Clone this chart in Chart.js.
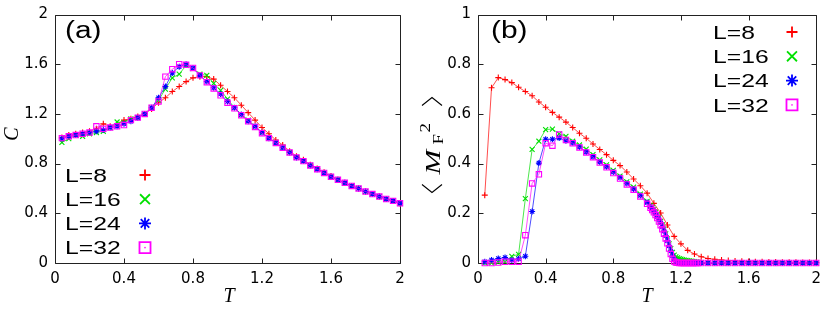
<!DOCTYPE html>
<html>
<head>
<meta charset="utf-8">
<script src="https://cdn.jsdelivr.net/npm/chart.js@4.4.1/dist/chart.umd.min.js"></script>
<style>
  html, body { margin: 0; padding: 0; background: #fff; }
  #wrap { position: relative; width: 830px; height: 310px; }
  #wrap canvas { position: absolute; top: 0; }
  #panelA { left: 0; }
  #panelB { left: 415px; }
</style>
</head>
<body>
<div id="wrap">
  <canvas id="panelA" width="415" height="310"></canvas>
  <canvas id="panelB" width="415" height="310"></canvas>
</div>
<script>
// system sizes
const sizes = ['L=8', 'L=16', 'L=24', 'L=32'];

// ticks
const xTicks = [0, 0.4, 0.8, 1.2, 1.6, 2];
const xTickLabels = ['0', '0.4', '0.8', '1.2', '1.6', '2'];
const yTicksA = [0, 0.4, 0.8, 1.2, 1.6, 2];
const yTickLabelsA = ['0', '0.4', '0.8', '1.2', '1.6', '2'];
const yTicksB = [0, 0.2, 0.4, 0.6, 0.8, 1];
const yTickLabelsB = ['0', '0.2', '0.4', '0.6', '0.8', '1'];

// temperatures, step 0.04
const tempsCoarse = [0.04, 0.08, 0.12, 0.16, 0.20, 0.24, 0.28, 0.32, 0.36, 0.40,
  0.44, 0.48, 0.52, 0.56, 0.60, 0.64, 0.68, 0.72, 0.76, 0.80,
  0.84, 0.88, 0.92, 0.96, 1.00, 1.04, 1.08, 1.12, 1.16, 1.20,
  1.24, 1.28, 1.32, 1.36, 1.40, 1.44, 1.48, 1.52, 1.56, 1.60,
  1.64, 1.68, 1.72, 1.76, 1.80, 1.84, 1.88, 1.92, 1.96, 2.00];

// temperatures for L=16,24,32 in panel (b), finer near the transition
const tempsFine = [0.04, 0.08, 0.12, 0.16, 0.20, 0.24, 0.28, 0.32, 0.36, 0.40,
  0.44, 0.48, 0.52, 0.56, 0.60, 0.64, 0.68, 0.72, 0.76, 0.80,
  0.84, 0.88, 0.92, 0.96, 1.00,
  1.02, 1.03, 1.04, 1.05, 1.06, 1.07, 1.08, 1.09, 1.10, 1.11,
  1.12, 1.13, 1.14, 1.15, 1.16, 1.17, 1.18, 1.19, 1.20, 1.21,
  1.22, 1.23, 1.24, 1.25, 1.26, 1.27, 1.28, 1.29, 1.30,
  1.32, 1.36, 1.40, 1.44, 1.48, 1.52, 1.56, 1.60, 1.64, 1.68,
  1.72, 1.76, 1.80, 1.84, 1.88, 1.92, 1.96, 2.00];

// (a) specific heat C
const cL8 = [1.01, 1.03, 1.04, 1.05, 1.06, 1.08, 1.12, 1.10, 1.12, 1.15,
  1.16, 1.18, 1.20, 1.24, 1.29, 1.33, 1.38, 1.42, 1.46, 1.49,
  1.50, 1.50, 1.48, 1.43, 1.38, 1.33, 1.27, 1.21, 1.15, 1.09,
  1.04, 0.99, 0.95, 0.90, 0.86, 0.83, 0.79, 0.76, 0.73, 0.70,
  0.67, 0.645, 0.62, 0.60, 0.575, 0.555, 0.535, 0.515, 0.50, 0.48];
const cL16 = [0.97, 1.00, 1.03, 1.02, 1.04, 1.05, 1.06, 1.09, 1.135, 1.13,
  1.16, 1.17, 1.20, 1.25, 1.31, 1.40, 1.49, 1.52, 1.59, 1.565,
  1.52, 1.51, 1.445, 1.39, 1.32, 1.25, 1.195, 1.15, 1.10, 1.05,
  1.005, 0.97, 0.93, 0.89, 0.85, 0.82, 0.785, 0.755, 0.725, 0.695,
  0.67, 0.645, 0.62, 0.60, 0.575, 0.555, 0.535, 0.515, 0.50, 0.48];
const cL24 = [1.00, 1.02, 1.03, 1.04, 1.05, 1.06, 1.07, 1.09, 1.10, 1.12,
  1.14, 1.17, 1.20, 1.25, 1.33, 1.42, 1.53, 1.58, 1.60, 1.57,
  1.51, 1.46, 1.41, 1.36, 1.30, 1.25, 1.195, 1.14, 1.10, 1.05,
  1.005, 0.966, 0.927, 0.89, 0.85, 0.82, 0.785, 0.755, 0.725, 0.695,
  0.67, 0.645, 0.62, 0.60, 0.575, 0.555, 0.535, 0.515, 0.50, 0.48];
const cL32 = [1.005, 1.02, 1.03, 1.04, 1.05, 1.10, 1.08, 1.09, 1.10, 1.11,
  1.15, 1.17, 1.20, 1.25, 1.30, 1.50, 1.56, 1.60, 1.595, 1.57,
  1.51, 1.455, 1.405, 1.35, 1.29, 1.245, 1.19, 1.14, 1.095, 1.045,
  1.005, 0.966, 0.927, 0.89, 0.85, 0.82, 0.785, 0.755, 0.725, 0.695,
  0.67, 0.645, 0.62, 0.60, 0.575, 0.555, 0.535, 0.515, 0.50, 0.48];

// (b) <M_F^2>
const mL8 = [0.273, 0.705, 0.746, 0.738, 0.726, 0.707, 0.690, 0.673, 0.648, 0.627,
  0.606, 0.587, 0.567, 0.545, 0.522, 0.502, 0.479, 0.457, 0.436, 0.413,
  0.392, 0.366, 0.338, 0.311, 0.281, 0.240, 0.201, 0.153, 0.107, 0.077,
  0.051, 0.036, 0.025, 0.018, 0.015, 0.012, 0.010, 0.008, 0.007, 0.006,
  0.005, 0.005, 0.004, 0.004, 0.003, 0.003, 0.003, 0.002, 0.002, 0.002];
const mL16 = [0.000, 0.000, 0.003, 0.005, 0.027, 0.035, 0.259, 0.457, 0.490, 0.537,
  0.539, 0.520, 0.510, 0.490, 0.475, 0.458, 0.436, 0.415, 0.395, 0.373,
  0.350, 0.327, 0.305, 0.277, 0.248,
  0.232, 0.224, 0.215, 0.205, 0.194, 0.182, 0.168, 0.153, 0.136, 0.117,
  0.097, 0.077, 0.058, 0.043, 0.032, 0.025, 0.021, 0.018, 0.016, 0.014,
  0.012, 0.011, 0.010, 0.009, 0.008, 0.007, 0.006, 0.005, 0.004,
  0.002, 0.001, 0, 0, 0, 0, 0, 0, 0, 0,
  0, 0, 0, 0, 0, 0, 0, 0];
const mL24 = [0.005, 0.012, 0.018, 0.022, 0.012, 0.017, 0.027, 0.207, 0.402, 0.498,
  0.498, 0.503, 0.492, 0.484, 0.467, 0.447, 0.428, 0.406, 0.387, 0.366,
  0.344, 0.320, 0.298, 0.272, 0.243,
  0.226, 0.217, 0.208, 0.198, 0.187, 0.175, 0.161, 0.146, 0.129, 0.110,
  0.090, 0.069, 0.048, 0.029, 0.015, 0.008, 0.004, 0.002, 0.001, 0.001,
  0, 0, 0, 0, 0, 0, 0, 0, 0,
  0, 0, 0, 0, 0, 0, 0, 0, 0, 0,
  0, 0, 0, 0, 0, 0, 0, 0];
const mL32 = [0.000, 0.000, 0.002, 0.005, 0.005, 0.005, 0.112, 0.320, 0.357, 0.482,
  0.472, 0.517, 0.495, 0.482, 0.465, 0.445, 0.426, 0.404, 0.385, 0.362,
  0.340, 0.316, 0.295, 0.268, 0.238,
  0.222, 0.213, 0.204, 0.193, 0.181, 0.167, 0.152, 0.136, 0.118, 0.099,
  0.079, 0.058, 0.036, 0.017, 0.006, 0.002, 0.001, 0, 0, 0,
  0, 0, 0, 0, 0, 0, 0, 0, 0,
  0, 0, 0, 0, 0, 0, 0, 0, 0, 0,
  0, 0, 0, 0, 0, 0, 0, 0];

// look of each series (gnuplot default colours)
const colors = ['#ff0000', '#00e000', '#0000ff', '#ff00ff'];
const lineColors = ['rgba(255,0,0,0.7)', 'rgba(0,220,0,0.7)', 'rgba(0,0,255,0.7)', 'rgba(255,0,255,0.7)'];
const pointStyles = ['cross', 'crossRot', 'star', 'rect'];
const pointRadii = [3, 3.5, 3, 3.8];
const legendRadii = [5.5, 7, 6, 7.8];

const tickFont = { family: '"DejaVu Sans"', size: 15, lineHeight: 1 };

function makeDataset(i, xs, ys) {
  return {
    label: sizes[i],
    data: xs.map((t, k) => ({ x: t, y: ys[k] })),
    borderColor: lineColors[i],
    borderWidth: 1,
    pointStyle: pointStyles[i],
    pointRadius: pointRadii[i],
    pointBorderColor: colors[i],
    pointBackgroundColor: i === 3 ? 'rgba(0,0,0,0)' : colors[i],
    pointBorderWidth: 1.1,
    tension: 0,
    clip: false,
    order: 3 - i
  };
}

function stretchedText(ctx, text, x, y, font, sx) {
  ctx.save();
  ctx.translate(x, y);
  ctx.scale(sx, 1);
  ctx.font = font;
  ctx.fillText(text, 0, 0);
  ctx.restore();
}

function legendMarker(ctx, i, x, y) {
  ctx.save();
  ctx.strokeStyle = colors[i];
  ctx.fillStyle = i === 3 ? 'rgba(0,0,0,0)' : colors[i];
  ctx.lineWidth = 1.8;
  Chart.helpers.drawPoint(ctx, { pointStyle: pointStyles[i], radius: legendRadii[i], borderWidth: 1.8, rotation: 0 }, x, y);
  if (i === 3) {
    ctx.fillStyle = colors[i];
    ctx.fillRect(x - 0.7, y - 0.7, 1.4, 1.4);
  }
  ctx.restore();
}

// border box with inward ticks on all four sides, like gnuplot
const gnuFrame = {
  id: 'gnuFrame',
  beforeDatasetsDraw(chart) {
    const { ctx, chartArea: a } = chart;
    const xs = chart.scales.x, ys = chart.scales.y;
    const L = Math.round(a.left) + 0.5, R = Math.round(a.right) + 0.5;
    const T = Math.round(a.top) + 0.5, B = Math.round(a.bottom) + 0.5;
    ctx.save();
    ctx.strokeStyle = '#222';
    ctx.lineWidth = 1;
    ctx.beginPath();
    ctx.rect(L, T, R - L, B - T);
    xs.ticks.forEach(t => {
      const p = Math.round(xs.getPixelForValue(t.value)) + 0.5;
      ctx.moveTo(p, B); ctx.lineTo(p, B - 5);
      ctx.moveTo(p, T); ctx.lineTo(p, T + 5);
    });
    ys.ticks.forEach(t => {
      const p = Math.round(ys.getPixelForValue(t.value)) + 0.5;
      ctx.moveTo(L, p); ctx.lineTo(L + 5, p);
      ctx.moveTo(R, p); ctx.lineTo(R - 5, p);
    });
    ctx.stroke();
    ctx.restore();
  },
  afterDatasetsDraw(chart, args, o) {
    const ctx = chart.ctx;
    ctx.save();
    ctx.fillStyle = '#000';
    ctx.textBaseline = 'alphabetic';
    ctx.textAlign = 'left';
    // panel tag
    stretchedText(ctx, o.tag, o.tagX, 38, '23px "Liberation Sans"', 1.3);
    // legend
    sizes.forEach((s, i) => {
      const y = o.legendY + i * o.legendGap;
      stretchedText(ctx, s, o.legendTextX, y + 6.8, '19px "Liberation Sans"', 1.3);
      legendMarker(ctx, i, o.legendMarkX, y);
    });
    // x title
    ctx.textAlign = 'center';
    ctx.font = 'italic 20px "Liberation Serif"';
    ctx.fillText('T', o.xTitleX, 301.5);
    // y title
    o.yTitle(ctx);
    ctx.restore();
  }
};

function drawTitleC(ctx) {
  ctx.save();
  ctx.translate(11, 134);
  ctx.rotate(-Math.PI / 2);
  ctx.textAlign = 'center';
  ctx.font = 'italic 20px "Liberation Serif"';
  ctx.fillText('C', 0, 7);
  ctx.restore();
}

function drawTitleM(ctx) {
  ctx.save();
  ctx.translate(17, 143.5);
  ctx.rotate(-Math.PI / 2);
  ctx.strokeStyle = '#000';
  ctx.lineWidth = 1.1;
  ctx.beginPath();
  ctx.moveTo(-41, -10); ctx.lineTo(-49, 0); ctx.lineTo(-41, 10);
  ctx.moveTo(38, -10); ctx.lineTo(46, 0); ctx.lineTo(38, 10);
  ctx.stroke();
  ctx.scale(1.35, 1);
  ctx.textAlign = 'left';
  ctx.font = 'italic 22px "Liberation Serif"';
  ctx.fillText('M', -31 / 1.35, 8);
  ctx.font = '14px "Liberation Serif"';
  ctx.fillText('F', -1 / 1.35, 11);
  ctx.fillText('2', 11 / 1.35, -2);
  ctx.restore();
}

function makeScales(yTicks, yLabels, yWidth) {
  return {
    x: {
      type: 'linear', min: 0, max: 2,
      afterBuildTicks: s => { s.ticks = xTicks.map(v => ({ value: v })); },
      afterFit: s => { s.height = 47; },
      ticks: { callback: (v, i) => xTickLabels[i], font: tickFont, color: '#000', padding: 9, maxRotation: 0, autoSkip: false },
      grid: { display: false, drawTicks: false },
      border: { display: false }
    },
    y: {
      type: 'linear', min: yTicks[0], max: yTicks[yTicks.length - 1],
      afterBuildTicks: s => { s.ticks = yTicks.map(v => ({ value: v })); },
      afterFit: s => { s.width = yWidth; },
      ticks: { callback: (v, i) => yLabels[i], font: tickFont, color: '#000', padding: 7, autoSkip: false },
      grid: { display: false, drawTicks: false },
      border: { display: false }
    }
  };
}

new Chart(document.getElementById('panelA'), {
  type: 'line',
  data: {
    datasets: [
      makeDataset(0, tempsCoarse, cL8),
      makeDataset(1, tempsCoarse, cL16),
      makeDataset(2, tempsCoarse, cL24),
      makeDataset(3, tempsCoarse, cL32)
    ]
  },
  options: {
    responsive: false,
    animation: false,
    events: [],
    layout: { padding: { left: 0, right: 15, top: 7, bottom: 0 } },
    scales: makeScales(yTicksA, yTickLabelsA, 55),
    plugins: {
      legend: { display: false },
      tooltip: { enabled: false },
      gnuFrame: { tag: '(a)', tagX: 65, legendY: 175, legendGap: 24.2, legendTextX: 65, legendMarkX: 145, xTitleX: 229, yTitle: drawTitleC }
    }
  },
  plugins: [gnuFrame]
});

new Chart(document.getElementById('panelB'), {
  type: 'line',
  data: {
    datasets: [
      makeDataset(0, tempsCoarse, mL8),
      makeDataset(1, tempsFine, mL16),
      makeDataset(2, tempsFine, mL24),
      makeDataset(3, tempsFine, mL32)
    ]
  },
  options: {
    responsive: false,
    animation: false,
    events: [],
    layout: { padding: { left: 0, right: 8, top: 7, bottom: 0 } },
    scales: makeScales(yTicksB, yTickLabelsB, 63),
    plugins: {
      legend: { display: false },
      tooltip: { enabled: false },
      gnuFrame: { tag: '(b)', tagX: 76, legendY: 32, legendGap: 24.3, legendTextX: 298, legendMarkX: 377, xTitleX: 232, yTitle: drawTitleM }
    }
  },
  plugins: [gnuFrame]
});
</script>
</body>
</html>
